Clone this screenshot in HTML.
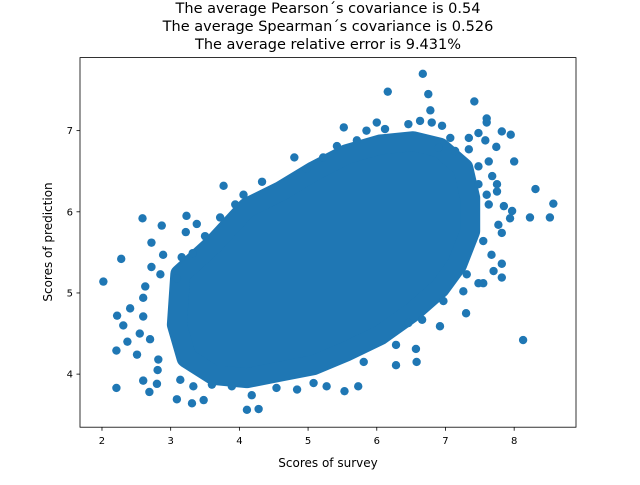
<!DOCTYPE html>
<html><head><meta charset="utf-8"><style>
body{margin:0;background:#fff;font-family:"Liberation Sans","DejaVu Sans",sans-serif}
svg text{font-family:"DejaVu Sans","Liberation Sans",sans-serif}
</style></head><body>
<svg id="chart" width="640" height="480" xmlns="http://www.w3.org/2000/svg">
<rect width="640" height="480" fill="#fff"/>
<g font-size="14.5" text-anchor="middle" fill="#000">
<text x="328" y="13">The average Pearson´s covariance is 0.54</text>
<text x="328" y="31">The average Spearman´s covariance is 0.526</text>
<text x="328" y="49">The average relative error is 9.431%</text>
</g>
<g id="marks"></g>
<rect x="80" y="57.6" width="496" height="369.6" fill="none" stroke="#000" stroke-width="0.8"/>
<g id="axes"></g>
<text x="328" y="467" font-size="12" text-anchor="middle">Scores of survey</text>
<text transform="translate(52,242) rotate(-90)" font-size="12" text-anchor="middle">Scores of prediction</text>
</svg>
<script>
const xTicks=[2,3,4,5,6,7,8];
const yTicks=[4,5,6,7];
// dense core boundary (data coords)
const coreX=[3.14,3.62,4.11,4.59,5.08,5.56,6.05,6.53,6.92,7.26,7.36,7.36,7.17,6.92,6.53,6.05,5.56,5.08,4.59,4.11,3.62,3.23,3.09];
const coreY=[5.23,5.60,6.05,6.25,6.50,6.71,6.83,6.87,6.79,6.54,6.17,5.76,5.35,5.06,4.77,4.48,4.28,4.11,4.03,3.95,3.99,4.20,4.61];
// individual sparse points
const ptX=[5.52,5.85,6.00,6.12,5.71,5.42,5.22,4.98,4.80,4.33,4.06,3.77,3.94,3.72,3.38,3.23,3.22,3.50,3.32,3.16,3.09,2.89,2.72,2.87,2.59,2.28,2.02,2.72,2.85,2.63,2.60,2.41,2.22,2.60,2.31,2.55,2.37,2.70,2.21,2.51,2.82,2.81,2.60,2.80,2.69,2.21,3.14,3.09,3.31,3.48,3.33,3.60,3.89,4.11,4.28,4.18,4.54,4.84,5.08,5.27,5.53,5.73,5.81,6.28,6.58,6.57,6.28,6.46,6.92,6.66,6.97,7.30,7.26,7.48,7.55,7.31,7.82,7.70,7.82,7.67,7.55,7.82,7.77,7.94,8.23,8.52,8.57,8.31,7.97,7.85,7.63,7.60,7.75,7.75,7.68,7.48,7.48,7.63,8.00,7.74,7.58,7.34,7.34,7.48,7.82,7.95,7.60,7.60,7.42,7.14,7.07,6.95,6.78,6.75,6.67,6.16,6.80,6.63,6.46,6.90,8.13];
const ptY=[7.04,7.00,7.10,7.02,6.88,6.81,6.67,6.53,6.67,6.37,6.21,6.32,6.09,5.93,5.85,5.95,5.75,5.70,5.49,5.44,5.18,5.47,5.62,5.83,5.92,5.42,5.14,5.32,5.23,5.08,4.94,4.81,4.72,4.71,4.60,4.50,4.40,4.43,4.29,4.24,4.18,4.05,3.92,3.88,3.78,3.83,3.93,3.69,3.64,3.68,3.85,3.87,3.85,3.56,3.57,3.74,3.83,3.81,3.89,3.85,3.79,3.85,4.15,4.11,4.15,4.31,4.36,4.63,4.59,4.67,4.90,4.75,5.02,5.12,5.12,5.23,5.19,5.27,5.36,5.47,5.64,5.74,5.84,5.92,5.93,5.93,6.10,6.28,6.01,6.07,6.09,6.21,6.25,6.34,6.44,6.34,6.56,6.62,6.62,6.80,6.88,6.91,6.77,6.97,6.99,6.95,7.10,7.15,7.36,6.75,6.91,7.06,7.25,7.45,7.70,7.48,7.10,7.12,7.08,6.79,4.42];
const X0=1.68,X1=8.9,Y0=3.346,Y1=7.9,L=80,R=576,T=57.6,B=427.2;
const sx=v=>L+(v-X0)/(X1-X0)*(R-L);
const sy=v=>B-(v-Y0)/(Y1-Y0)*(B-T);
const NS='http://www.w3.org/2000/svg';
const marks=document.getElementById('marks');
const axes=document.getElementById('axes');
const C='#1f77b4';
let d=coreX.map((x,i)=>(i?'L':'M')+sx(x)+','+sy(coreY[i])).join('')+'Z';
const core=document.createElementNS(NS,'path');
core.setAttribute('d',d);core.setAttribute('fill',C);core.setAttribute('stroke',C);
core.setAttribute('stroke-width','20');core.setAttribute('stroke-linejoin','round');


marks.appendChild(core);
ptX.forEach((x,i)=>{
 const c=document.createElementNS(NS,'circle');
 c.setAttribute('cx',sx(x));c.setAttribute('cy',sy(ptY[i]));c.setAttribute('r',4.2);c.setAttribute('fill',C);
 
 
 marks.appendChild(c);
});
xTicks.forEach(v=>{
 const g=document.createElementNS(NS,'g');
 
 
 g.innerHTML=`<line x1="${sx(v)}" x2="${sx(v)}" y1="${B}" y2="${B+3.5}" stroke="#000" stroke-width="0.8"/><text x="${sx(v)}" y="${B+17}" font-size="10" text-anchor="middle">${v}</text>`;
 axes.appendChild(g);
});
yTicks.forEach(v=>{
 const g=document.createElementNS(NS,'g');
 
 
 g.innerHTML=`<line x1="${L-3.5}" x2="${L}" y1="${sy(v)}" y2="${sy(v)}" stroke="#000" stroke-width="0.8"/><text x="${L-7}" y="${sy(v)+3.5}" font-size="10" text-anchor="end">${v}</text>`;
 axes.appendChild(g);
});
</script>
</body></html>
